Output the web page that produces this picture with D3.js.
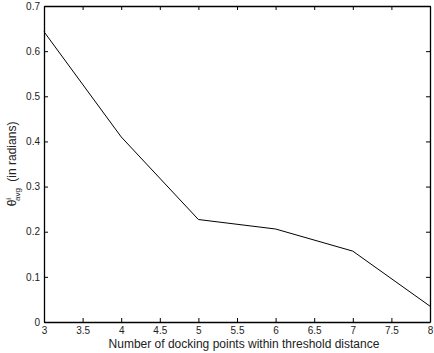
<!DOCTYPE html>
<html>
<head>
<meta charset="utf-8">
<script src="https://cdn.jsdelivr.net/npm/d3@7"></script>
<style>
  body { margin: 0; background: #fff; }
  text { font-family: "Liberation Sans", Arial, sans-serif; fill: #222; }
</style>
</head>
<body>
<div id="chart"></div>
<script>
// data
var dockingPoints = [3, 4, 5, 6, 7, 8];
var thetaAvg = [0.643, 0.41, 0.227, 0.206, 0.157, 0.035];
var xTicks = [3, 3.5, 4, 4.5, 5, 5.5, 6, 6.5, 7, 7.5, 8];
var yTicks = [0, 0.1, 0.2, 0.3, 0.4, 0.5, 0.6, 0.7];

var margin = {top: 6, right: 4, bottom: 31, left: 44};
var width = 434 - margin.left - margin.right;
var height = 353 - margin.top - margin.bottom;

var svg = d3.select("#chart").append("svg")
    .attr("width", 434)
    .attr("height", 353)
    .append("g")
    .attr("transform", "translate(" + margin.left + "," + margin.top + ")");

var x = d3.scaleLinear().domain([3, 8]).range([0, width]);
var y = d3.scaleLinear().domain([0, 0.7]).range([height, 0]);

var fmt = d => d3.format("")(d);

// axes, ticks pointing inwards like matlab
var axBottom = svg.append("g")
    .attr("transform", "translate(0," + height + ")")
    .call(d3.axisBottom(x).tickValues(xTicks).tickFormat(fmt).tickSizeInner(-4).tickSizeOuter(0).tickPadding(5));
var axLeft = svg.append("g")
    .call(d3.axisLeft(y).tickValues(yTicks).tickFormat(fmt).tickSizeInner(-4).tickSizeOuter(0).tickPadding(4));
var axTop = svg.append("g")
    .call(d3.axisTop(x).tickValues(xTicks).tickFormat("").tickSizeInner(-4).tickSizeOuter(0));
var axRight = svg.append("g")
    .attr("transform", "translate(" + width + ",0)")
    .call(d3.axisRight(y).tickValues(yTicks).tickFormat("").tickSizeInner(-4).tickSizeOuter(0));

[axBottom, axLeft, axTop, axRight].forEach(g => {
    g.selectAll("path").attr("stroke", "#000").attr("stroke-width", 1.3);
    g.selectAll("line").attr("stroke", "#000");
    g.selectAll("text").attr("font-size", 10).attr("fill", "#333")
        .attr("font-family", "Liberation Sans, Arial, sans-serif");
});

// the line
var line = d3.line()
    .x((d, i) => x(dockingPoints[i]))
    .y(d => y(d));

svg.append("path")
    .datum(thetaAvg)
    .attr("fill", "none")
    .attr("stroke", "#000")
    .attr("stroke-width", 1)
    .attr("d", line);

// x label
svg.append("text")
    .attr("x", width / 2 + 7)
    .attr("y", height + 26)
    .attr("text-anchor", "middle")
    .attr("font-size", 12)
    .text("Number of docking points within threshold distance");

// y label with super/subscript
var ylab = svg.append("text")
    .attr("transform", "translate(-28," + (height / 2) + ") rotate(-90)")
    .attr("text-anchor", "middle")
    .attr("font-size", 12);
ylab.append("tspan").text("θ");
ylab.append("tspan").attr("font-size", 8).attr("dy", -5).text("i");
ylab.append("tspan").attr("font-size", 8).attr("dx", -3).attr("dy", 9).text("avg");
ylab.append("tspan").attr("dx", 3).attr("dy", -4).text(" (in radians)");
</script>
</body>
</html>
